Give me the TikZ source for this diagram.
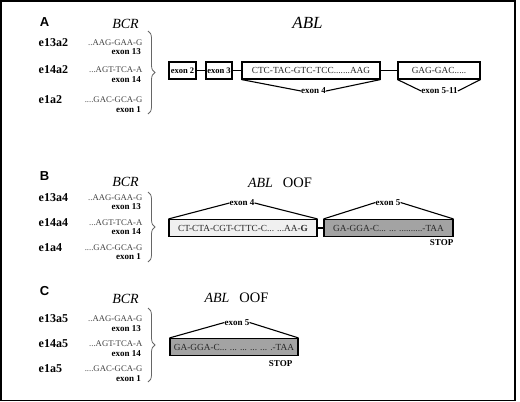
\documentclass[tikz,border=0pt]{standalone}
\usepackage{fontspec}
\setmainfont{Liberation Serif}
\setsansfont{Liberation Sans}
\usetikzlibrary{decorations.pathreplacing}
\definecolor{seqgray}{HTML}{404040}
\definecolor{lightbox}{HTML}{F0F0F0}
\definecolor{darkbox}{HTML}{A3A3A3}
\tikzset{
  panel/.style={font=\fontsize{13}{15}\sffamily\bfseries, inner sep=0pt},
  gene/.style={font=\fontsize{14}{16}\selectfont\itshape, inner sep=0pt},
  geneA/.style={font=\fontsize{17}{19}\selectfont\itshape, inner sep=0pt},
  oof/.style={font=\fontsize{14.5}{16}\selectfont, inner sep=0pt},
  fus/.style={font=\fontsize{12}{14}\selectfont\bfseries, inner sep=0pt, anchor=west},
  seq/.style={font=\fontsize{8.7}{10}\selectfont, text=seqgray, inner sep=0pt, anchor=east},
  exnum/.style={font=\fontsize{9}{10}\selectfont\bfseries, inner sep=0pt, anchor=east},
  exlab/.style={font=\fontsize{9}{10}\selectfont\bfseries, inner sep=0pt},
  exbox/.style={draw, line width=1.1pt, minimum height=17pt, inner sep=0pt, font=\fontsize{8.5}{10}\selectfont\bfseries},
  seqbox/.style={draw, line width=1.1pt, minimum height=17pt, inner sep=0pt, font=\fontsize{9.3}{10}\selectfont, text=black!85},
  link/.style={line width=1.1pt},
  funnel/.style={line width=1.1pt},
  bcrbrace/.style={draw=black!60, line width=0.8pt, decorate, decoration={brace, amplitude=7pt}},
}
\begin{document}
\begin{tikzpicture}[x=1pt, y=-1pt]
\useasboundingbox (0,0) rectangle (520,402);
\draw[line width=1.3pt] (1,1) rectangle (515,400.5);

% ---------------- Panel A ----------------
\node[panel] (pA) at (44.5,22.5) {A};
\node[gene] (bcrA) at (125.5,24) {BCR};
\node[geneA] (ablA) at (307.5,23) {ABL};
\node[fus] (fA1) at (38.5,43) {e13a2};
\node[fus] (fA2) at (38.5,70) {e14a2};
\node[fus] (fA3) at (38.5,100) {e1a2};
\node[seq] (sA1) at (142.5,42.5) {..AAG-GAA-G};
\node[exnum] (nA1) at (141,52) {exon 13};
\node[seq] (sA2) at (142.5,70) {...AGT-TCA-A};
\node[exnum] (nA2) at (141,79.5) {exon 14};
\node[seq] (sA3) at (142.5,100) {....GAC-GCA-G};
\node[exnum] (nA3) at (141,110) {exon 1};
\draw[bcrbrace] (148,31) -- (148,114);

\node[exbox, minimum width=27pt] (a2) at (182.5,70.5) {exon 2};
\node[exbox, minimum width=26pt] (a3) at (219,70.5) {exon 3};
\node[seqbox, minimum width=138pt] (a4) at (311,70.5) {CTC-TAC-GTC-TCC.......AAG};
\node[seqbox, minimum width=82pt] (a5) at (439,70.5) {GAG-GAC.....};
\draw[link] (a2) -- (a3);
\draw[link] (a3) -- (a4);
\draw[link] (a4) -- (a5);
\node[exlab] (la4) at (313.5,91) {exon 4};
\node[exlab] (la5) at (439.5,91) {exon 5-11};
\draw[funnel] (a4.south west) -- (la4.west);
\draw[funnel] (a4.south east) -- (la4.east);
\draw[funnel] (a5.south west) -- (la5.west);
\draw[funnel] (a5.south east) -- (la5.east);

% ---------------- Panel B ----------------
\node[panel] (pB) at (44.5,176.5) {B};
\node[gene] (bcrB) at (125.5,182) {BCR};
\node[gene] (ablB) at (260.5,183) {ABL};
\node[oof] (oofB) at (297.5,183) {OOF};
\node[fus] (fB1) at (38.5,198) {e13a4};
\node[fus] (fB2) at (38.5,223) {e14a4};
\node[fus] (fB3) at (38.5,248) {e1a4};
\node[seq] (sB1) at (142.5,198) {..AAG-GAA-G};
\node[exnum] (nB1) at (141,206.5) {exon 13};
\node[seq] (sB2) at (142.5,223) {...AGT-TCA-A};
\node[exnum] (nB2) at (141,232) {exon 14};
\node[seq] (sB3) at (142.5,248) {....GAC-GCA-G};
\node[exnum] (nB3) at (141,256.5) {exon 1};
\draw[bcrbrace] (148,192) -- (148,262);

\node[seqbox, fill=lightbox, minimum width=148pt] (b4) at (243,228) {CT-CTA-CGT-CTTC-C... ...AA-\textbf{G}};
\node[seqbox, fill=darkbox, minimum width=129pt] (b5) at (388.5,228) {GA-GGA-C... ... ..........-TAA};
\draw[link] (b4) -- (b5);
\node[exlab] (lb4) at (242,203) {exon 4};
\node[exlab] (lb5) at (388,202.5) {exon 5};
\draw[funnel] (b4.north west) -- (lb4.west);
\draw[funnel] (b4.north east) -- (lb4.east);
\draw[funnel] (b5.north west) -- (lb5.west);
\draw[funnel] (b5.north east) -- (lb5.east);
\node[exlab, anchor=east] (stopB) at (453.5,243) {STOP};

% ---------------- Panel C ----------------
\node[panel] (pC) at (44.5,291) {C};
\node[gene] (bcrC) at (125.5,299) {BCR};
\node[gene] (ablC) at (217,298) {ABL};
\node[oof] (oofC) at (254,298) {OOF};
\node[fus] (fC1) at (38.5,319) {e13a5};
\node[fus] (fC2) at (38.5,344) {e14a5};
\node[fus] (fC3) at (38.5,369) {e1a5};
\node[seq] (sC1) at (142.5,319) {..AAG-GAA-G};
\node[exnum] (nC1) at (141,329) {exon 13};
\node[seq] (sC2) at (142.5,344) {...AGT-TCA-A};
\node[exnum] (nC2) at (141,353.5) {exon 14};
\node[seq] (sC3) at (142.5,369) {....GAC-GCA-G};
\node[exnum] (nC3) at (141,379) {exon 1};
\draw[bcrbrace] (148,308) -- (148,382);

\node[seqbox, fill=darkbox, minimum width=128pt] (c5) at (234,347) {GA-GGA-C... ... ... ... ... .-TAA};
\node[exlab] (lc5) at (237,322.5) {exon 5};
\draw[funnel] (c5.north west) -- (lc5.west);
\draw[funnel] (c5.north east) -- (lc5.east);
\node[exlab, anchor=east] (stopC) at (292.5,363.5) {STOP};
\end{tikzpicture}
\end{document}
